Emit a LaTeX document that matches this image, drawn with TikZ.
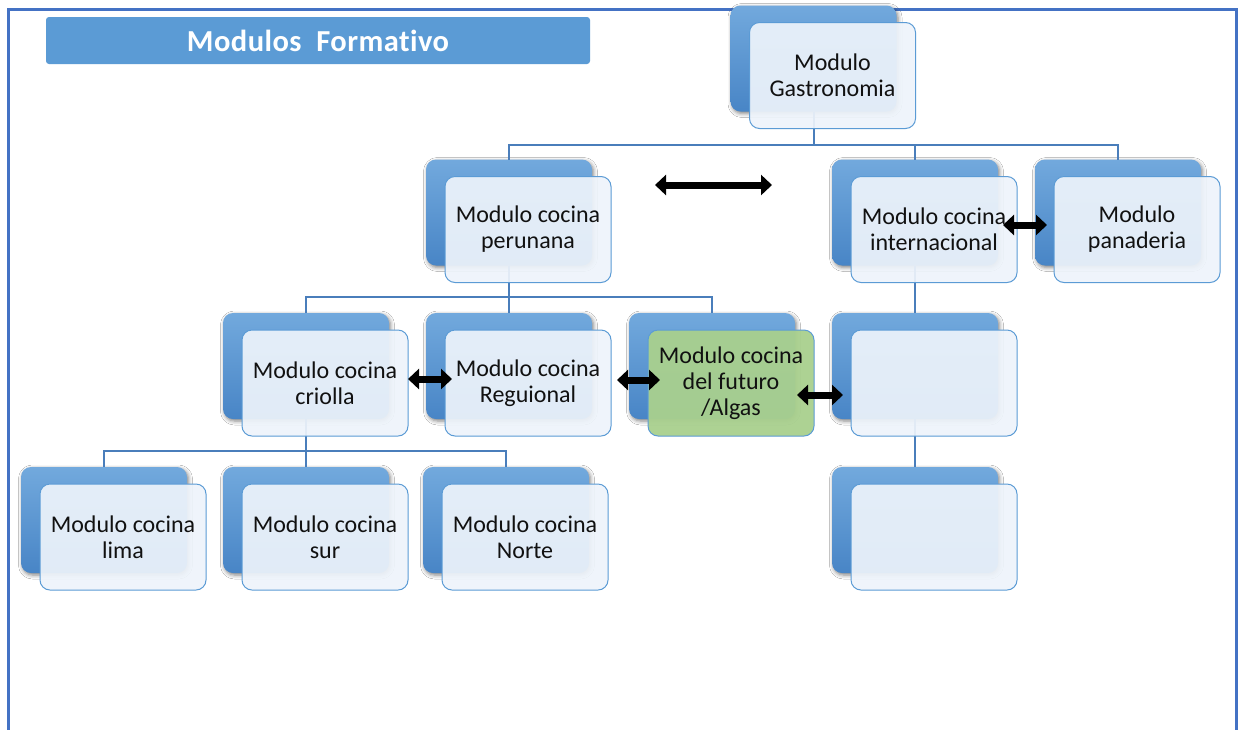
\documentclass[tikz,border=0pt]{standalone}
\usepackage{fontspec}
\setmainfont{Carlito}[Ligatures=NoCommon]
\newfontfamily\titlefont{Carlito}[Ligatures=NoCommon, LetterSpace=1.5]
\usetikzlibrary{arrows.meta,shadows.blur}
\definecolor{framec}{HTML}{4472C4}
\definecolor{titlec}{HTML}{5B9BD5}
\definecolor{backtop}{HTML}{72A9DD}
\definecolor{backbot}{HTML}{4885C6}
\definecolor{frontc}{HTML}{EEF4FB}
\definecolor{frontline}{HTML}{5B9BD5}
\definecolor{linkc}{HTML}{4A7EBB}
\definecolor{greenc}{HTML}{A9D08E}
\definecolor{textc}{HTML}{111111}
\tikzset{
  backbox/.style={rounded corners=10pt, minimum width=166pt, minimum height=106pt,
    inner sep=0pt, outer sep=0pt, top color=backtop, bottom color=backbot, draw=none,
    blur shadow={shadow xshift=1.5pt, shadow yshift=-2pt, shadow blur radius=4pt, shadow opacity=50}},
  frontbox/.style={rounded corners=10pt, minimum width=166pt, minimum height=106pt,
    inner sep=2pt, outer sep=0pt, draw=frontline, line width=1pt, fill=frontc,
    fill opacity=0.92, text opacity=1, text=textc, align=center,
    font=\fontsize{24}{26}\selectfont},
  greenbox/.style={frontbox, fill=greenc, fill opacity=0.95},
  titlebar/.style={rounded corners=3pt, fill=titlec, minimum width=544pt, minimum height=47pt,
    inner sep=0pt, text=white, font=\titlefont\fontsize{30.5}{32}\selectfont\bfseries},
  link/.style={draw=linkc, line width=2pt},
  twoway/.style={line width=7pt, {Triangle[length=11pt,width=20pt]}-{Triangle[length=11pt,width=20pt]}},
}
\begin{document}
\begin{tikzpicture}[x=1pt,y=-1pt]
\useasboundingbox (0,0) rectangle (1238,729);
\fill[white] (0,0) rectangle (1238,729);
% page frame
\draw[framec, line width=3pt] (8,735) -- (8,9) -- (1236,9) -- (1236,735);
% title
\node[titlebar] (title) at (318,40.5) {Modulos\ \ Formativo};
% back cards
\foreach \n/\x/\y in {gastro/832.5/75.5, peru/528/229.5, intl/934/229.5, pan/1137/229.5,
    criolla/325/383, reg/528/383, algas/731/383, vacA/934/383,
    lima/123/537, sur/325/537, norte/525/537, vacB/934/537}
  \node[backbox] (\n b) at (\x-19,\y-17) {};
% hierarchy links
\draw[link] (gastrob.south) -- ++(0,33) -| (perub.north);
\draw[link] (gastrob.south) -- ++(0,33) -| (intlb.north);
\draw[link] (gastrob.south) -- ++(0,33) -| (panb.north);
\draw[link] (perub.south) -- ++(0,31) -| (criollab.north);
\draw[link] (perub.south) -- ++(0,31) -| (regb.north);
\draw[link] (perub.south) -- ++(0,31) -| (algasb.north);
\draw[link] (criollab.south) -- ++(0,32) -| (limab.north);
\draw[link] (criollab.south) -- ++(0,32) -| (surb.north);
\draw[link] (criollab.south) -- ++(0,32) -| (norteb.north);
\draw[link] (intlb.south) -- (vacAb.north);
\draw[link] (vacAb.south) -- (vacBb.north);
% front cards
\node[frontbox] (gastro) at (832.5,75.5) {Modulo\\Gastronomia};
\node[frontbox] (peru) at (528,229.5) {Modulo cocina\\perunana};
\node[frontbox] (intl) at (934,229.5) {Modulo cocina\\internacional};
\node[frontbox] (pan) at (1137,229.5) {Modulo\\panaderia};
\node[frontbox] (criolla) at (325,383) {Modulo cocina\\criolla};
\node[frontbox] (reg) at (528,383) {Modulo cocina\\Reguional};
\node[greenbox] (algas) at (731,383) {Modulo cocina\\del futuro\\/Algas};
\node[frontbox] (vacA) at (934,383) {};
\node[frontbox] (lima) at (123,537) {Modulo cocina\\lima};
\node[frontbox] (sur) at (325,537) {Modulo cocina\\sur};
\node[frontbox] (norte) at (525,537) {Modulo cocina\\Norte};
\node[frontbox] (vacB) at (934,537) {};
% two-way arrows
\coordinate (freeL) at (655,185);
\coordinate (freeR) at (772,185);
\draw[twoway] (freeL) -- (freeR);
\draw[twoway, shorten >=-7pt] ([yshift=4pt]criolla.east) -- ([yshift=4pt]reg.west);
\draw[twoway, shorten <=6pt, shorten >=-12pt] ([yshift=3pt]reg.east) -- ([yshift=3pt]algas.west);
\draw[twoway, shorten <=-17pt, shorten >=8pt] ([yshift=-12pt]algas.east) -- ([yshift=-12pt]vacA.west);
\draw[twoway, shorten <=-14pt, shorten >=7pt] ([yshift=4.5pt]intl.east) -- ([yshift=4.5pt]pan.west);
\end{tikzpicture}
\end{document}
